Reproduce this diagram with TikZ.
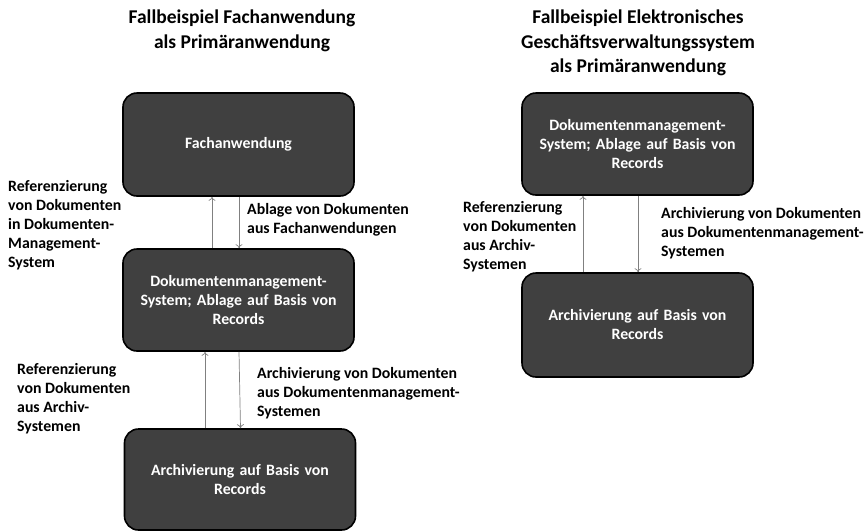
\documentclass[tikz,border=0pt]{standalone}
\usepackage{fontspec}
\setmainfont{Carlito}
\usetikzlibrary{arrows.meta, calc}
\frenchspacing

\begin{document}
\begin{tikzpicture}[x=1pt, y=1pt, font=\bfseries\fontsize{15.8}{19}\selectfont,
    box/.style={draw=black, line width=1.6pt, fill=black!75, rounded corners=14pt, text=white, align=center, minimum width=231pt, text width=220pt},
    lbl/.style={anchor=north west, inner sep=0pt, align=left},
    ttl/.style={align=center, inner sep=0pt, font=\bfseries\fontsize{19.5}{24.5}\selectfont},
    arr/.style={draw=black!50, line width=0.7pt, -{To[length=4pt, width=7pt]}}]
    \useasboundingbox (0,0) rectangle (866,-531);
    % titles
    \node[ttl, anchor=north] (t1) at (242,-10) {Fallbeispiel Fachanwendung\\als Primäranwendung};
    \node[ttl, anchor=north] (t2) at (638,-10) {Fallbeispiel Elektronisches\\Geschäftsverwaltungssystem\\als Primäranwendung};
    % left column
    \node[box, minimum height=103pt] (fach) at (238.5,-144.5) {Fachanwendung};
    \node[box, minimum height=102pt] (dms) at (238.5,-300) {Dokumentenmanagement-\\System; Ablage auf Basis von\\Records};
    \node[box, minimum height=101pt] (arch) at (240,-479.5) {Archivierung auf Basis von\\Records};
    \draw[arr] ([xshift=-26.5pt]dms.north) -- ([xshift=-26.5pt]fach.south);
    \draw[arr] ([xshift=0.5pt]fach.south) -- ([xshift=0.5pt]dms.north);
    \draw[arr] ([xshift=-35pt]arch.north) -- ([xshift=-33.5pt]dms.south);
    \draw[arr] ([xshift=0.5pt]dms.south) -- ([xshift=0.5pt]arch.north);
    \node[lbl] (ref1) at (8,-180) {Referenzierung\\von Dokumenten\\in Dokumenten-\\Management-\\System};
    \node[lbl] (abl) at (247,-203) {Ablage von Dokumenten\\aus Fachanwendungen};
    \node[lbl] (ref2) at (17,-363) {Referenzierung\\von Dokumenten\\aus Archiv-\\Systemen};
    \node[lbl] (arc1) at (257,-367) {Archivierung von Dokumenten\\aus Dokumentenmanagement-\\Systemen};
    % right column
    \node[box, minimum height=102pt] (dmsr) at (637.5,-144) {Dokumentenmanagement-\\System; Ablage auf Basis von\\Records};
    \node[box, minimum height=104pt] (archr) at (637.5,-325) {Archivierung auf Basis von\\Records};
    \draw[arr] ([xshift=-54.5pt]archr.north) -- ([xshift=-54.5pt]dmsr.south);
    \draw[arr] ([xshift=0.5pt]dmsr.south) -- ([xshift=0.5pt]archr.north);
    \node[lbl] (ref3) at (463,-201) {Referenzierung\\von Dokumenten\\aus Archiv-\\Systemen};
    \node[lbl] (arc2) at (661,-207) {Archivierung von Dokumenten\\aus Dokumentenmanagement-\\Systemen};
\end{tikzpicture}
\end{document}
